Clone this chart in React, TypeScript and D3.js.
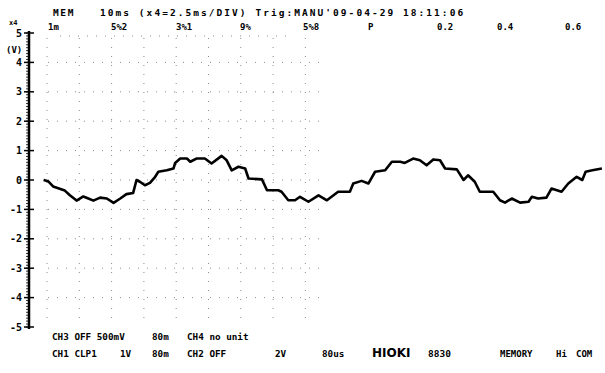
import React from "react";
import * as d3 from "d3";

// time in ms, value in V
const timeMs = [0.01,0.09,0.18,0.39,0.48,0.60,0.72,0.81,0.90,1.02,1.14,1.26,1.38,1.49,1.61,1.67,1.73,1.82,1.91,2.00,2.06,2.21,2.33,2.36,2.45,2.57,2.63,2.74,2.89,3.01,3.19,3.28,3.37,3.49,3.61,3.67,3.91,4.00,4.20,4.26,4.38,4.50,4.59,4.74,4.92,5.07,5.27,5.48,5.54,5.69,5.81,5.93,6.11,6.23,6.38,6.46,6.61,6.73,6.85,6.97,7.09,7.18,7.39,7.51,7.59,7.71,7.80,8.04,8.16,8.25,8.37,8.52,8.67,8.73,8.84,8.99,9.08,9.26,9.38,9.53,9.63,9.69,9.81,9.98];
const voltage = [0.0,-0.04,-0.22,-0.36,-0.52,-0.70,-0.56,-0.63,-0.70,-0.60,-0.63,-0.78,-0.63,-0.48,-0.44,0.0,-0.06,-0.18,-0.10,0.10,0.28,0.33,0.39,0.58,0.73,0.73,0.62,0.73,0.73,0.56,0.82,0.67,0.33,0.45,0.39,0.05,0.02,-0.35,-0.35,-0.40,-0.69,-0.69,-0.57,-0.74,-0.52,-0.69,-0.40,-0.40,-0.12,-0.03,-0.12,0.28,0.33,0.62,0.62,0.58,0.73,0.67,0.50,0.70,0.67,0.39,0.36,0.0,0.16,-0.06,-0.40,-0.40,-0.69,-0.77,-0.63,-0.77,-0.74,-0.57,-0.63,-0.60,-0.29,-0.40,-0.12,0.11,0.0,0.28,0.33,0.39];
const yTickLabels = ["5","4","3","2","1","0","-1","-2","-3","-4","-5"];
const topLabels = ["1m","5%2","3%1","9%","5%8","P","0.2","0.4","0.6"];
const headerMode = "MEM";
const headerText = "10ms (x4=2.5ms/DIV) Trig:MANU'09-04-29 18:11:06";
const footerRow1 = ["CH3 OFF 500mV", "80m", "CH4 no unit"];
const footerRow2 = ["CH1 CLP1", "1V", "80m", "CH2 OFF", "2V", "80us"];
const brandTokens = ["HIOKI", "8830", "MEMORY", "Hi", "COM"];

export default function App() {
  const W = 605, H = 373;
  const x = d3.scaleLinear().domain([0, 10]).range([43, 603]);
  const y = d3.scaleLinear().domain([-5, 5]).range([327, 33]);
  const axisX = 29;
  const line = d3.line<number>()
    .x((_, i) => x(timeMs[i]))
    .y((d) => y(d))
    .curve(d3.curveLinear);

  const majors = d3.range(-5, 6);
  const minors = d3.range(-50, 51).map((v) => v / 10);
  const gridX = d3.range(0, 9).map((i) => 47 + i * 32.3);
  const font = "'DejaVu Sans Mono', monospace";

  const topX = [48, 111, 176, 240, 303, 368, 437, 497, 565];
  const f1x = [52, 152, 187];
  const f2x = [52, 120, 152, 187, 275, 322];
  const brandX = [372, 428, 500, 556, 576];
  const brandSize = [12, 9.5, 9, 9, 9];

  return (
    <div style={{ position: "fixed", left: 0, top: 0 }}>
      <svg width={W} height={H} style={{ display: "block", background: "#fff" }}>
        {/* grid */}
        <g stroke="#000" strokeWidth={1} strokeDasharray="1 8" opacity={0.45}>
          {majors.filter((v) => v > -5 && v < 5).map((v) => (
            <line key={"h" + v} x1={48} x2={320} y1={y(v)} y2={y(v)} />
          ))}
          <line x1={60} x2={290} y1={36} y2={36} />
          {gridX.map((gx, i) => (
            <line key={"v" + i} x1={gx} x2={gx} y1={38} y2={325} />
          ))}
        </g>
        {/* y axis */}
        <line x1={axisX} x2={axisX} y1={y(5) - 2} y2={y(-5) + 2} stroke="#000" strokeWidth={2.5} />
        {minors.map((v, i) => (
          <line key={"m" + i} x1={axisX - 3} x2={axisX} y1={y(v)} y2={y(v)} stroke="#000" strokeWidth={0.8} />
        ))}
        {majors.map((v) => (
          <line key={"M" + v} x1={axisX - 5} x2={axisX + 5} y1={y(v)} y2={y(v)} stroke="#000" strokeWidth={1.5} />
        ))}
        {majors.map((v, i) => (
          <text key={"l" + v} x={axisX - 7} y={y(5 - i) + 3.5} textAnchor="end" fontFamily={font}
            fontWeight="bold" fontSize={10} fill="#000">{yTickLabels[i]}</text>
        ))}
        <text x={9} y={25} fontFamily={font} fontWeight="bold" fontSize={7} fill="#000">x4</text>
        <text x={6} y={53} fontFamily={font} fontWeight="bold" fontSize={9} fill="#000">(V)</text>

        {/* header */}
        <text x={53} y={16} fontFamily={font} fontWeight="bold" fontSize={9.5} letterSpacing={1.6} fill="#000">{headerMode}</text>
        <text x={100} y={16} fontFamily={font} fontWeight="bold" fontSize={9.5} letterSpacing={2.05}
          fill="#000" xmlSpace="preserve">{headerText}</text>
        {topLabels.map((t, i) => (
          <text key={"t" + i} x={topX[i]} y={30} fontFamily={font} fontWeight="bold" fontSize={9} fill="#000">{t}</text>
        ))}

        {/* waveform */}
        <path d={line(voltage) || ""} fill="none" stroke="#000" strokeWidth={2.6} strokeLinejoin="round" />

        {/* footer */}
        {footerRow1.map((t, i) => (
          <text key={"f1" + i} x={f1x[i]} y={340} fontFamily={font} fontWeight="bold" fontSize={9.3}
            fill="#000" xmlSpace="preserve">{t}</text>
        ))}
        {footerRow2.map((t, i) => (
          <text key={"f2" + i} x={f2x[i]} y={357} fontFamily={font} fontWeight="bold" fontSize={9.3}
            fill="#000" xmlSpace="preserve">{t}</text>
        ))}
        {brandTokens.map((t, i) => (
          <text key={"b" + i} x={brandX[i]} y={357} fontFamily={i === 0 ? "'DejaVu Sans', sans-serif" : font}
            fontWeight="bold" fontSize={brandSize[i]} fill="#000">{t}</text>
        ))}
      </svg>
    </div>
  );
}
